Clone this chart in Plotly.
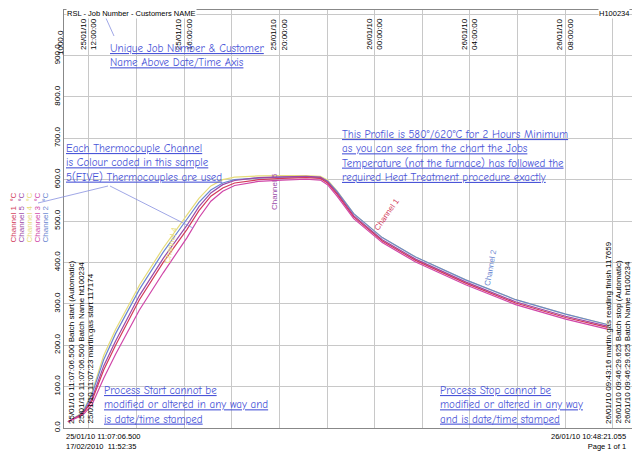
import datetime as dt
import plotly.graph_objects as go

# hours after batch start (25/01/10 11:07:06.500)
hours = [0, 0.5, 0.7, 1, 1.5, 2, 3, 4, 5, 5.5, 6, 6.5, 7, 8, 9, 10, 10.6,
         10.9, 11.3, 12.0, 13.2, 14.6, 16.7, 18.8, 20.9, 22.65]

ch1 = [15, 30, 40, 65, 140, 200, 310, 400, 480, 525, 560, 580, 592, 600, 603, 605, 603,
       592, 565, 510, 452, 405, 350, 302, 267, 243]
ch2 = [15, 32, 45, 80, 165, 228, 335, 425, 505, 545, 575, 592, 600, 604, 606, 607, 605,
       597, 572, 518, 460, 413, 358, 310, 275, 250]
ch3 = [15, 28, 36, 55, 120, 178, 285, 375, 460, 508, 548, 572, 586, 596, 599, 601, 599,
       588, 560, 506, 448, 401, 346, 298, 263, 239]
ch4 = [15, 33, 48, 85, 175, 238, 345, 435, 515, 555, 585, 600, 606, 609, 610, 610, 608,
       599, 573, 518, 460, 413, 358, 310, 275, 250]
ch5 = [15, 30, 42, 70, 150, 210, 320, 410, 490, 535, 568, 588, 598, 605, 607, 608, 606,
       595, 568, 513, 455, 408, 353, 305, 270, 246]

channels = [("Channel 4", ch4, "#e6dc7a"), ("Channel 2", ch2, "#6a86d0"),
            ("Channel 5", ch5, "#9a4aa8"), ("Channel 1", ch1, "#d23a5a"),
            ("Channel 3", ch3, "#d046a8")]

y_ticks = [0, 100, 200, 300, 400, 500, 600, 700, 800, 900, 1000]
time_ticks = ["2010-01-25 12:00", "2010-01-25 16:00", "2010-01-25 20:00",
              "2010-01-26 00:00", "2010-01-26 04:00", "2010-01-26 08:00"]

start = dt.datetime(2010, 1, 25, 11, 7, 6, 500000)
end = dt.datetime(2010, 1, 26, 10, 48, 21, 55000)
axis_start = start - dt.timedelta(minutes=10)
xs = [start + dt.timedelta(hours=h) for h in hours]

# page has an 8px body margin, so the figure is drawn 8px in from the corner
OFF = 8
W, H, L, R, T, B = 632, 446, 56, 8, 2, 26
pw, ph = W - L - R, H - T - B


def px(x):
    return (x - OFF - L) / pw


def py(y):
    return (H - B - (y - OFF)) / ph


fig = go.Figure()
for name, vals, col in channels:
    fig.add_trace(go.Scatter(x=xs, y=vals, mode="lines", name=name,
                             line=dict(color=col, width=1.2)))

small = dict(family="Liberation Sans, Arial", size=8, color="black")
hand = dict(family="Comic Neue, Lato, sans-serif", size=11, color="#4a55d8")
ann = []

# time labels at top
for t in time_ticks:
    d = dt.datetime.strptime(t, "%Y-%m-%d %H:%M")
    ann.append(dict(x=d, y=py(16), xref="x", yref="paper", yanchor="top", showarrow=False,
                    textangle=-90, font=small,
                    text=d.strftime("%d/%m/%y") + "<br>" + d.strftime("%H:%M:%S")))

ann += [
    dict(x=px(66), y=py(8), xanchor="left", yanchor="top", text="RSL - Job Number - Customers NAME",
         font=dict(family="Liberation Sans", size=7.5, color="black"), bgcolor="white", borderpad=0),
    dict(x=px(630), y=py(8), xanchor="right", yanchor="top", text="H100234",
         font=dict(family="Liberation Sans", size=7.5, color="black"), bgcolor="white", borderpad=0),
    dict(x=px(54), y=py(28), textangle=-90, text="1000.0", font=small),
    dict(x=px(64), y=py(430), xanchor="left", yanchor="top", align="left",
         font=dict(family="Liberation Sans", size=7.5, color="black"),
         text="25/01/10 11:07:06.500<br>17/02/2010  11:52:35"),
    dict(x=px(628), y=py(430), xanchor="right", yanchor="top", align="right",
         font=dict(family="Liberation Sans", size=7.5, color="black"),
         text="26/01/10 10:48:21.055<br>Page 1 of 1"),
    dict(x=px(108), y=py(40), xanchor="left", yanchor="top", align="left", font=hand,
         text="<u>Unique Job Number & Customer</u><br><u>Name Above Date/Time Axis</u>"),
    dict(x=px(64), y=py(140), xanchor="left", yanchor="top", align="left", font=hand,
         text="<u>Each Thermocouple Channel</u><br><u>is Colour coded in this sample</u><br><u>5(FIVE) Thermocouples are used</u>"),
    dict(x=px(340), y=py(126), xanchor="left", yanchor="top", align="left", font=hand,
         text="<u>This Profile is 580°/620°C for 2 Hours Minimum</u><br><u>as you can see from the chart the Jobs</u><br><u>Temperature (not the furnace) has followed the</u><br><u>required Heat Treatment procedure exactly</u>"),
    dict(x=px(102), y=py(382), xanchor="left", yanchor="top", align="left", font=hand,
         text="<u>Process Start cannot be</u><br><u>modified or altered in any way and</u><br><u>is date/time stamped</u>"),
    dict(x=px(438), y=py(382), xanchor="left", yanchor="top", align="left", font=hand,
         text="<u>Process Stop cannot be</u><br><u>modified or altered in any way</u><br><u>and is date/time stamped</u>"),
]

# rotated event texts
for i, s in enumerate(["25/01/10 11:07:06.500 Batch start (Automatic)",
                       "25/01/10 11:07:06.500 Batch Name ht100234",
                       "25/01/10 11:07:23 martin.gas start 117174"]):
    ann.append(dict(x=px(65 + 9 * i), y=py(426), xanchor="left", yanchor="bottom",
                    textangle=-90, showarrow=False, font=small, text=s))
for i, s in enumerate(["26/01/10 09:43:16 martin.gas reading finish 117659",
                       "26/01/10 09:46:29.625 Batch stop (Automatic)",
                       "26/01/10 09:46:29.625 Batch Name ht100234"]):
    ann.append(dict(x=px(602 + 9 * i), y=py(426), xanchor="left", yanchor="bottom",
                    textangle=-90, showarrow=False, font=small, text=s))

# left channel legend
for i, (name, col) in enumerate([("Channel 1", "#d23a5a"), ("Channel 5", "#9a4aa8"),
                                 ("Channel 4", "#e6dc7a"), ("Channel 3", "#d046a8"),
                                 ("Channel 2", "#6a86d0")]):
    ann.append(dict(x=px(6 + 8 * i), y=py(245), xanchor="left", yanchor="bottom",
                    textangle=-90, font=dict(family="Liberation Sans", size=8, color=col),
                    text=name + "  °C"))

# labels on curves
for name, x, y, a, col in [("Channel 5", 274, 192, -90, "#9a4aa8"),
                           ("Channel 4", 160, 245, -78, "#e6dc7a"),
                           ("Channel 1", 387, 215, -55, "#d23a5a"),
                           ("Channel 2", 500, 268, -80, "#6a86d0")]:
    ann.append(dict(x=px(x), y=py(y), textangle=a, font=dict(family="Liberation Sans", size=8, color=col),
                    text=name))

for a in ann:
    a.setdefault("xref", "paper")
    a.setdefault("yref", "paper")
    a.setdefault("showarrow", False)

shapes = [
    dict(type="line", xref="paper", yref="paper", x0=px(105), y0=py(16), x1=px(114), y1=py(36),
         line=dict(color="#8890e0", width=0.8)),
    dict(type="line", xref="paper", yref="paper", x0=px(108), y0=py(186), x1=px(38), y1=py(203),
         line=dict(color="#8890e0", width=0.8)),
    dict(type="line", xref="paper", yref="paper", x0=px(110), y0=py(186), x1=px(193), y1=py(228),
         line=dict(color="#8890e0", width=0.8)),
]

fig.update_layout(
    width=W, height=H, margin=dict(l=L, r=R, t=T, b=B),
    paper_bgcolor="white", plot_bgcolor="white", showlegend=False,
    annotations=ann, shapes=shapes,
    xaxis=dict(range=[axis_start, end], tick0="2010-01-25 12:00", dtick=2 * 3600 * 1000,
               showticklabels=False, showgrid=True, gridcolor="#c8c8c8", gridwidth=1,
               zeroline=False, showline=True, linecolor="#888", mirror=True),
    yaxis=dict(range=[0, 1010], tickvals=y_ticks,
               ticktext=[f"{v:.1f}" if v < 1000 else "" for v in y_ticks],
               tickangle=-90, tickfont=small, showgrid=True, gridcolor="#c8c8c8",
               zeroline=False, showline=True, linecolor="#888", mirror=True),
)

fig.write_html("out.html")
